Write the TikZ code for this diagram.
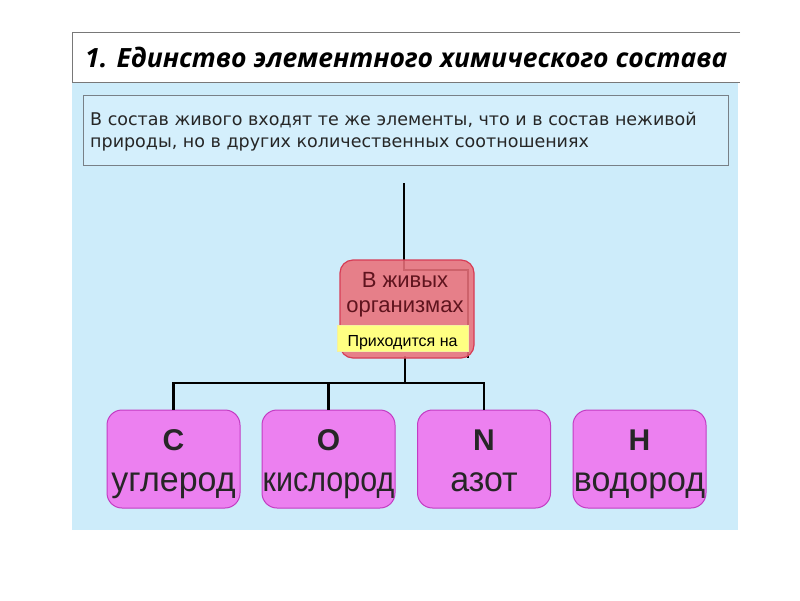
\documentclass[tikz,border=0pt]{standalone}
\usepackage{fontspec}
\setmainfont{Liberation Sans}
\newfontfamily\titlefont{Open Sans}
\newfontfamily\descfont{DejaVu Sans}
\definecolor{bgblue}{RGB}{205,236,250}
\definecolor{boxblue}{RGB}{212,239,252}
\definecolor{boxgray}{RGB}{120,128,135}
\definecolor{titlegray}{RGB}{120,120,120}
\definecolor{redfill}{RGB}{234,112,122}
\definecolor{redline}{RGB}{215,60,85}
\definecolor{redtext}{RGB}{95,20,30}
\definecolor{yellowfill}{RGB}{255,255,130}
\definecolor{yellowline}{RGB}{245,240,160}
\definecolor{magfill}{RGB}{236,128,240}
\definecolor{magline}{RGB}{195,60,195}
\tikzset{
  conn/.style={draw=black, line width=2.4pt},
  elembox/.style={draw=magline, fill=magfill, line width=1pt, rounded corners=15pt,
    minimum width=133pt, minimum height=98pt, inner sep=0pt},
  elemsym/.style={font=\bfseries\fontsize{30}{32}\selectfont, inner sep=0pt, text=black!85},
  elemname/.style={font=\fontsize{35}{38}\selectfont, inner sep=0pt, text=black!85},
}
\begin{document}
\begin{tikzpicture}[x=1pt,y=-1pt]
\useasboundingbox (0,0) rectangle (800,600);
\fill[white] (0,0) rectangle (800,600);
% blue panel
\fill[bgblue] (72,82) rectangle (738,530);
% title frame
\draw[titlegray, line width=1pt] (740,32) -- (72,32) -- (72,82) -- (740,82);
\node[anchor=base west, inner sep=0pt, font=\titlefont\bfseries\itshape\fontsize{26.5}{30}\selectfont] (title) at (85,67) {1. Единство элементного химического состава};
% description box
\node[draw=boxgray, fill=boxblue, line width=1pt, anchor=north west, minimum width=645pt, minimum height=70pt, inner sep=0pt] (desc) at (83,95) {};
\node[anchor=base west, inner sep=0pt, align=left, font=\descfont\fontsize{17.5}{22}\selectfont, text=black!85] (desctext) at (90,147)
  {В состав живого входят те же элементы, что и в состав неживой\\
   природы, но в других количественных соотношениях};
% coordinates for connectors
\coordinate (top) at (404,183);
\coordinate (in1) at (404,270);
\coordinate (in2) at (468,270);
\coordinate (in3) at (468,358);
\coordinate (out) at (405,356);
\coordinate (hub) at (405,383);
% element boxes
\node[elembox] (e1) at (173.5,459) {};
\node[elembox] (e2) at (328.5,459) {};
\node[elembox] (e3) at (484,459) {};
\node[elembox] (e4) at (639.5,459) {};
% connectors (behind red box)
\draw[conn] (top) -- (in1) -- (in2) -- (in3);
\draw[conn] (out) -- (hub);
\draw[conn] (hub) -| (e1.north);
\draw[conn] (hub) -| (e3.north);
\draw[conn] (e2.north |- hub) -- (e2.north);
% red box
\node[draw=redline, fill=redfill, fill opacity=0.88, line width=1.2pt, rounded corners=13pt,
  minimum width=134pt, minimum height=98pt, inner sep=0pt] (org) at (407,309) {};
\node[anchor=base, inner sep=0pt, align=center, text=redtext, font=\fontsize{22}{25}\selectfont] (orgtext) at (405,312)
  {В живых\\организмах};
\node[fill=yellowfill, draw=yellowline, line width=1pt, minimum width=131pt, minimum height=26pt, inner sep=0pt,
  font=\fontsize{16}{18}\selectfont, anchor=north] (label) at (402.5,325) {};
\node[anchor=base, inner sep=0pt, font=\fontsize{16}{18}\selectfont] (labeltext) at (402.5,346) {Приходится на};
% element texts
\node[elemsym] (s1) at (173.5,440) {C};
\node[elemsym] (s2) at (328.5,440) {O};
\node[elemsym] (s3) at (484,440) {N};
\node[elemsym] (s4) at (639.5,440) {H};
\node[elemname, anchor=base] (n1) at (173.5,491) {\scalebox{0.97}[1]{углерод}};
\node[elemname, anchor=base] (n2) at (328.5,491) {\scalebox{0.87}[1]{кислород}};
\node[elemname, anchor=base] (n3) at (484,491) {\scalebox{0.97}[1]{азот}};
\node[elemname, anchor=base] (n4) at (639.5,491) {\scalebox{0.97}[1]{водород}};
\end{tikzpicture}
\end{document}
